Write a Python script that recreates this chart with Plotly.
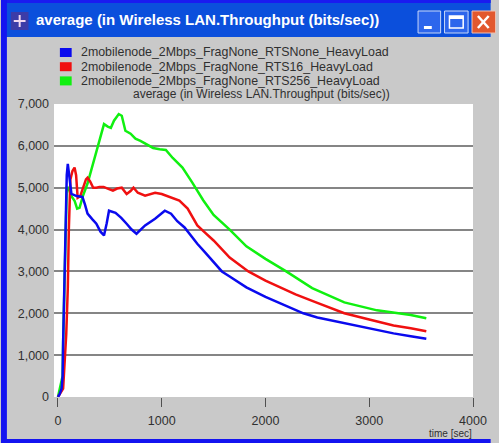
import plotly.graph_objects as go

# average throughput (bits/sec) against simulation time (sec)
time_rts_none = [0, 15, 35, 45, 50, 60, 70, 85, 95, 110, 130, 180, 236, 260, 285, 330, 370, 410, 444,
                 470, 492, 555, 610, 662, 710, 757, 800, 840, 936, 990, 1030, 1090, 1150, 1220, 1280,
                 1343, 1420, 1500, 1580, 1655, 1816, 2000, 2365, 2500, 2760, 3000, 3234, 3400, 3550]
thr_rts_none = [0, 60, 200, 500, 1300, 2500, 4000, 5300, 5570, 5200, 4850, 4800, 4780, 4600, 4380, 4250,
                4140, 3950, 3860, 4150, 4450, 4400, 4280, 4140, 4000, 3900, 4000, 4100, 4260, 4380, 4450,
                4380, 4200, 4050, 3850, 3660, 3450, 3230, 3000, 2880, 2620, 2390, 2000, 1900, 1760, 1630,
                1520, 1450, 1390]

time_rts16 = [0, 50, 80, 95, 105, 120, 140, 160, 175, 190, 215, 245, 270, 285, 310, 340, 370, 400, 440,
              480, 530, 570, 615, 662, 700, 728, 770, 840, 890, 936, 1000, 1050, 1090, 1170, 1250, 1300,
              1343, 1420, 1500, 1655, 1835, 2000, 2290, 2500, 2760, 3000, 3234, 3400, 3550]
thr_rts16 = [0, 200, 1500, 2600, 4000, 5200, 5400, 5480, 5300, 4760, 4800, 5000, 5200, 5240, 5150, 5000,
             5000, 5020, 5020, 4980, 4930, 4980, 5000, 4850, 4920, 5000, 4880, 4810, 4850, 4880, 4850, 4800,
             4770, 4690, 4500, 4300, 4100, 3920, 3740, 3330, 3000, 2780, 2450, 2250, 2000, 1850, 1710,
             1640, 1570]

time_rts256 = [0, 45, 50, 60, 70, 85, 100, 130, 160, 185, 208, 240, 285, 330, 370, 410, 444, 480, 510,
               540, 586, 615, 650, 700, 747, 795, 840, 917, 980, 1040, 1106, 1200, 1295, 1400, 1500, 1655,
               1816, 2000, 2200, 2450, 2760, 3075, 3400, 3550]
thr_rts256 = [0, 500, 1300, 2500, 4000, 5000, 5000, 4800, 4690, 4500, 4520, 4800, 5100, 5500, 5880, 6250,
              6520, 6460, 6430, 6600, 6760, 6720, 6360, 6290, 6170, 6120, 6050, 5950, 5920, 5900, 5710,
              5480, 5120, 4700, 4350, 4000, 3600, 3300, 3000, 2600, 2260, 2070, 1960, 1880]

series_names = ["2mobilenode_2Mbps_FragNone_RTSNone_HeavyLoad",
                "2mobilenode_2Mbps_FragNone_RTS16_HeavyLoad",
                "2mobilenode_2Mbps_FragNone_RTS256_HeavyLoad"]
series_colors = ["#0a0aee", "#f01010", "#10f010"]
x_ticks = [0, 1000, 2000, 3000, 4000]
y_ticks = [0, 1000, 2000, 3000, 4000, 5000, 6000, 7000]
window_title = "average (in Wireless LAN.Throughput (bits/sec))"
panel_title = "average (in Wireless LAN.Throughput (bits/sec))"

W, H = 499, 443
L, R, T, B = 54, 18, 104, 46
PW, PH = W - L - R, H - T - B
FONT = "Liberation Sans"


def px(x):
    return (x - L) / PW


def py(y):
    return (H - B - y) / PH


def rect(x0, y0, x1, y1, fill, line=None, lw=0):
    return dict(type="rect", xref="paper", yref="paper",
                x0=px(x0), x1=px(x1), y0=py(y1), y1=py(y0),
                fillcolor=fill, line=dict(color=line or fill, width=lw), layer="above")


def seg(x0, y0, x1, y1, color, w):
    return dict(type="line", xref="paper", yref="paper",
                x0=px(x0), x1=px(x1), y0=py(y0), y1=py(y1),
                line=dict(color=color, width=w), layer="above")


series = list(zip([time_rts_none, time_rts16, time_rts256],
                  [thr_rts_none, thr_rts16, thr_rts256],
                  series_names, series_colors))

fig = go.Figure()
# green underneath, blue on top
for t, v, name, color in reversed(series):
    fig.add_trace(go.Scatter(x=t, y=v, mode="lines", name=name,
                             line=dict(color=color, width=2.5), showlegend=False))

shapes = [
    # window frame and title bar
    rect(0, 0, W, 37, "#0b4fdc"),
    rect(0, 0, W, 3, "#1a1af0"),
    rect(0, 0, 6, H, "#1414f0"),
    rect(0, 439, W, H, "#1414f0"),
    # icon
    rect(10, 12, 28, 30, "#3c3ca8"),
    seg(13, 21, 25, 21, "#f0d8f0", 2),
    seg(19, 15, 19, 27, "#f0d8f0", 2),
    # minimise / maximise / close buttons
    rect(425, 11, 448, 33, "#2d66ec", "#c8d8f8", 1),
    rect(431, 26, 439, 29, "#ffffff"),
    rect(452, 11, 476, 33, "#2d66ec", "#c8d8f8", 1),
    rect(457, 16, 471, 28, "rgba(0,0,0,0)", "#ffffff", 1.5),
    rect(457, 16, 471, 19, "#ffffff"),
    rect(480, 11, W + 5, 33, "#e2582e", "#f0c0b0", 1),
    seg(486, 16, 497, 28, "#ffffff", 2.5),
    seg(497, 16, 486, 28, "#ffffff", 2.5),
]

annotations = [
    dict(text="<b>" + window_title + "</b>", x=px(34), y=py(20), xanchor="left", yanchor="middle",
         font=dict(family=FONT, size=15, color="#ffffff")),
    dict(text=panel_title, x=px(265), y=py(94), xanchor="center", yanchor="middle",
         font=dict(family=FONT, size=12, color="#303030")),
    dict(text="time [sec]", x=px(482), y=py(434), xanchor="right", yanchor="middle",
         font=dict(family=FONT, size=10, color="#303030")),
]
for i, (_, _, name, color) in enumerate(series):
    yc = 52.5 + 14.2 * i
    shapes.append(rect(60, yc - 4.5, 72, yc + 4.5, color))
    annotations.append(dict(text=name, x=px(79), y=py(yc), xanchor="left", yanchor="middle",
                            font=dict(family=FONT, size=12.4, color="#303030")))
for a in annotations:
    a.update(xref="paper", yref="paper", showarrow=False)

fig.update_layout(
    width=W, height=H,
    margin=dict(l=L, r=R, t=T, b=B, pad=0),
    paper_bgcolor="#c9c9c9", plot_bgcolor="#ffffff",
    showlegend=False,
    shapes=shapes, annotations=annotations,
    font=dict(family=FONT, size=12, color="#303030"),
)
fig.update_xaxes(range=[-38, 4000], tickvals=x_ticks, ticktext=[str(v) for v in x_ticks],
                 ticks="outside", ticklen=9, tickwidth=1, tickcolor="#505050",
                 ticklabelstandoff=3, showgrid=False, zeroline=False, showline=False,
                 tickfont=dict(family=FONT, size=12.5, color="#303030"))
fig.update_yaxes(range=[0, 7000], tickvals=y_ticks, tickformat=",", showgrid=True,
                 gridcolor="#858585", gridwidth=2, zeroline=False, showline=False,
                 ticks="", ticklabelstandoff=4,
                 tickfont=dict(family=FONT, size=12.5, color="#303030"))

# the page body has a default 8px margin; drop it so the figure fills the window
fig.write_html("out.html", config={"displayModeBar": False},
               post_script="document.body.style.margin='0';")
